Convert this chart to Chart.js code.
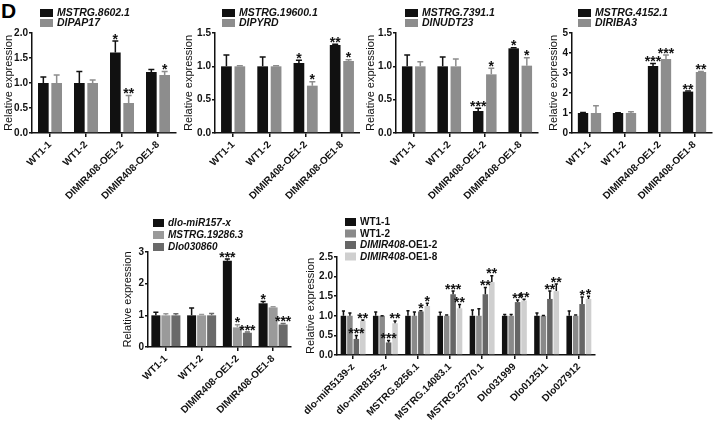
<!DOCTYPE html>
<html>
<head>
<meta charset="utf-8">
<script src="https://cdn.jsdelivr.net/npm/chart.js@4.4.0/dist/chart.umd.min.js"></script>
<style>
  body { margin: 0; background: #fff; width: 716px; height: 423px; overflow: hidden; position: relative; }
  canvas { position: absolute; }
  #tag { position: absolute; left: 1px; top: -1px; line-height: 1; font: bold 21px "Liberation Sans", Arial, sans-serif; color: #000; }
</style>
</head>
<body>
<div id="tag">D</div>
<canvas id="cA" width="180" height="210" style="left:0;top:0"></canvas>
<canvas id="cB" width="180" height="210" style="left:180px;top:0"></canvas>
<canvas id="cC" width="180" height="210" style="left:360px;top:0"></canvas>
<canvas id="cD" width="176" height="210" style="left:540px;top:0"></canvas>
<canvas id="cE" width="186" height="213" style="left:110px;top:210px"></canvas>
<canvas id="cF" width="310" height="213" style="left:296px;top:210px"></canvas>
<script>
const groupLabels = ['WT1-1', 'WT1-2', 'DIMIR408-OE1-2', 'DIMIR408-OE1-8'];

// panel 1
const mstrg8602 = [1.0, 1.0, 1.61, 1.22];
const mstrg8602Err = [0.12, 0.23, 0.23, 0.05];
const mstrg8602Sig = ['', '', '*', ''];
const dipap17 = [1.0, 1.0, 0.6, 1.16];
const dipap17Err = [0.16, 0.06, 0.15, 0.07];
const dipap17Sig = ['', '', '**', '*'];

// panel 2
const mstrg19600 = [1.0, 1.0, 1.05, 1.32];
const mstrg19600Err = [0.17, 0.14, 0.04, 0.01];
const mstrg19600Sig = ['', '', '*', '**'];
const dipyrd = [1.0, 1.0, 0.71, 1.08];
const dipyrdErr = [0.01, 0.01, 0.06, 0.02];
const dipyrdSig = ['', '', '*', '*'];

// panel 3
const mstrg7391 = [1.0, 1.0, 0.33, 1.27];
const mstrg7391Err = [0.17, 0.14, 0.04, 0.01];
const mstrg7391Sig = ['', '', '***', '*'];
const dinudt23 = [1.0, 1.0, 0.88, 1.01];
const dinudt23Err = [0.07, 0.11, 0.09, 0.12];
const dinudt23Sig = ['', '', '*', '*'];

// panel 4
const mstrg4152 = [1.0, 1.0, 3.35, 2.07];
const mstrg4152Err = [0.03, 0.01, 0.12, 0.03];
const mstrg4152Sig = ['', '', '***', '**'];
const diriba3 = [1.0, 1.0, 3.7, 3.05];
const diriba3Err = [0.36, 0.06, 0.2, 0.02];
const diriba3Sig = ['', '', '***', '**'];

// panel 5
const miR157 = [1.0, 1.0, 2.72, 1.38];
const miR157Err = [0.1, 0.23, 0.06, 0.06];
const miR157Sig = ['', '', '***', '*'];
const mstrg19286 = [1.0, 1.0, 0.62, 1.25];
const mstrg19286Err = [0.05, 0.03, 0.08, 0.02];
const mstrg19286Sig = ['', '', '*', ''];
const dlo030860 = [1.0, 1.0, 0.45, 0.71];
const dlo030860Err = [0.05, 0.06, 0.02, 0.03];
const dlo030860Sig = ['', '', '***', '***'];

// panel 6
const targetLabels = ['dlo-miR5139-z', 'dlo-miR8155-z', 'MSTRG.8256.1', 'MSTRG.14083.1', 'MSTRG.25770.1', 'Dlo031999', 'Dlo012511', 'Dlo027912'];
const wt11 = [1.0, 1.0, 1.0, 1.0, 1.0, 1.0, 1.0, 1.0];
const wt11Err = [0.12, 0.1, 0.13, 0.09, 0.15, 0.03, 0.07, 0.12];
const wt12 = [1.0, 1.0, 1.0, 1.0, 1.0, 1.0, 1.0, 1.0];
const wt12Err = [0.07, 0, 0.1, 0.02, 0.18, 0.03, 0.01, 0.02];
const oe12 = [0.41, 0.32, 1.11, 1.55, 1.55, 1.35, 1.43, 1.3];
const oe12Err = [0.09, 0.05, 0.02, 0.08, 0.17, 0.05, 0.2, 0.18];
const oe12Sig = ['***', '***', '*', '***', '**', '**', '**', '*'];
const oe18 = [0.87, 0.81, 1.25, 1.19, 1.86, 1.39, 1.63, 1.43];
const oe18Err = [0.02, 0.06, 0.07, 0.1, 0.16, 0.03, 0.18, 0.07];
const oe18Sig = ['**', '**', '*', '**', '**', '**', '**', '*'];
const noSig = ['', '', '', '', '', '', '', ''];

const FAMILY = '"Liberation Sans", Arial, sans-serif';
const BLACK = '#111111';
const STAR_SIZE = 14;

// error bars, stars and the little legend above each plot
const extras = {
  id: 'extras',
  afterDatasetsDraw(chart, args, opts) {
    const ctx = chart.ctx;
    const y = chart.scales.y;
    ctx.save();
    chart.data.datasets.forEach((ds, i) => {
      chart.getDatasetMeta(i).data.forEach((bar, j) => {
        const top = y.getPixelForValue(ds.data[j] + ds.err[j]);
        const cap = bar.width * 0.28;
        ctx.strokeStyle = ds.errColor;
        ctx.lineWidth = 1.5;
        ctx.beginPath();
        ctx.moveTo(bar.x, bar.y);
        ctx.lineTo(bar.x, top);
        ctx.moveTo(bar.x - cap, top);
        ctx.lineTo(bar.x + cap, top);
        ctx.stroke();
        if (ds.sig[j]) {
          ctx.fillStyle = BLACK;
          ctx.font = 'bold ' + STAR_SIZE + 'px ' + FAMILY;
          ctx.textAlign = 'center';
          ctx.textBaseline = 'alphabetic';
          ctx.fillText(ds.sig[j], bar.x, top - 3 + 0.4 * STAR_SIZE);
        }
      });
    });

    // legend
    const x0 = chart.chartArea.left + opts.dx;
    chart.data.datasets.forEach((ds, i) => {
      const cy = opts.y0 + i * opts.dy;
      ctx.fillStyle = ds.backgroundColor;
      ctx.fillRect(x0, cy - opts.bh / 2, opts.bw, opts.bh);
      let tx = x0 + opts.bw + 4;
      ctx.fillStyle = BLACK;
      ctx.textAlign = 'left';
      ctx.textBaseline = 'middle';
      ds.parts.forEach(p => {
        ctx.font = (p[1] ? 'italic ' : '') + 'bold ' + opts.fs + 'px ' + FAMILY;
        ctx.fillText(p[0], tx, cy + 0.5);
        tx += ctx.measureText(p[0]).width;
      });
    });
    ctx.restore();
  }
};

function series(name, mean, err, sig, color, errColor, parts) {
  return { name, mean, err, sig, color, errColor: errColor || color, parts: parts || [[name, true]] };
}

function makePanel(id, cfg) {
  new Chart(document.getElementById(id), {
    type: 'bar',
    data: {
      labels: cfg.labels,
      datasets: cfg.series.map(s => ({
        label: s.name,
        data: s.mean,
        err: s.err,
        sig: s.sig,
        parts: s.parts,
        errColor: s.errColor,
        backgroundColor: s.color,
        borderWidth: 0,
        categoryPercentage: cfg.cp,
        barPercentage: cfg.bp
      }))
    },
    options: {
      responsive: false,
      animation: false,
      devicePixelRatio: 1,
      layout: { padding: { top: cfg.pt, right: cfg.pr, left: 0, bottom: 0 } },
      plugins: {
        legend: { display: false },
        tooltip: { enabled: false },
        extras: cfg.legend
      },
      scales: {
        x: {
          afterFit: s => { s.height = cfg.xh; },
          border: { display: true, color: BLACK, width: 1.5 },
          grid: { offset: false, drawOnChartArea: false, tickLength: 4, color: BLACK, lineWidth: 1.5 },
          ticks: {
            autoSkip: false, maxRotation: 45, minRotation: 45, padding: 2, color: BLACK,
            font: { family: FAMILY, size: 10, weight: 'bold' }
          }
        },
        y: {
          min: 0,
          max: cfg.ymax,
          afterFit: s => { s.width = cfg.yw; },
          border: { display: true, color: BLACK, width: 1.5 },
          grid: { drawOnChartArea: false, tickLength: 3, color: BLACK, lineWidth: 1.5 },
          ticks: {
            stepSize: cfg.step, padding: 1, color: BLACK,
            font: { family: FAMILY, size: 10, weight: 'bold' },
            callback: v => v.toFixed(cfg.dec)
          },
          title: {
            display: true, text: 'Relative expression', color: BLACK,
            padding: { top: cfg.tp, bottom: 0 },
            font: { family: FAMILY, size: 11, lineHeight: 1 }
          }
        }
      }
    },
    plugins: [extras]
  });
}

const GRAY = '#8d8d8d';
const topLegend = { dx: 7, y0: 13, dy: 10, bw: 13, bh: 8, fs: 10.5 };
const topBase = { labels: groupLabels, cp: 0.74, bp: 0.8, pt: 33, xh: 77 };

makePanel('cA', Object.assign({}, topBase, {
  ymax: 2, step: 0.5, dec: 1, yw: 32, tp: 3, pr: 4, legend: Object.assign({}, topLegend, { dx: 8 }),
  series: [
    series('MSTRG.8602.1', mstrg8602, mstrg8602Err, mstrg8602Sig, BLACK),
    series('DIPAP17', dipap17, dipap17Err, dipap17Sig, GRAY)
  ]
}));

makePanel('cB', Object.assign({}, topBase, {
  ymax: 1.5, step: 0.5, dec: 1, yw: 35, tp: 3, pr: 0, legend: topLegend,
  series: [
    series('MSTRG.19600.1', mstrg19600, mstrg19600Err, mstrg19600Sig, BLACK),
    series('DIPYRD', dipyrd, dipyrdErr, dipyrdSig, GRAY)
  ]
}));

makePanel('cC', Object.assign({}, topBase, {
  ymax: 1.5, step: 0.5, dec: 1, yw: 36, tp: 5.5, pr: 2, legend: Object.assign({}, topLegend, { dx: 9 }),
  series: [
    series('MSTRG.7391.1', mstrg7391, mstrg7391Err, mstrg7391Sig, BLACK),
    series('DINUDT23', dinudt23, dinudt23Err, dinudt23Sig, GRAY)
  ]
}));

makePanel('cD', Object.assign({}, topBase, {
  ymax: 5, step: 1, dec: 0, yw: 32, tp: 8, pr: 4, legend: Object.assign({}, topLegend, { dx: 6 }),
  series: [
    series('MSTRG.4152.1', mstrg4152, mstrg4152Err, mstrg4152Sig, BLACK),
    series('DIRIBA3', diriba3, diriba3Err, diriba3Sig, GRAY)
  ]
}));

makePanel('cE', {
  labels: groupLabels, cp: 0.84, bp: 0.9, pt: 42, xh: 76,
  ymax: 3, step: 1, dec: 0, yw: 38, tp: 12, pr: 5,
  legend: { dx: 5, y0: 13, dy: 12, bw: 11, bh: 8, fs: 10 },
  series: [
    series('dlo-miR157-x', miR157, miR157Err, miR157Sig, BLACK),
    series('MSTRG.19286.3', mstrg19286, mstrg19286Err, mstrg19286Sig, '#9a9a9a'),
    series('Dlo030860', dlo030860, dlo030860Err, dlo030860Sig, '#6a6a6a')
  ]
});

makePanel('cF', {
  labels: targetLabels, cp: 0.8, bp: 0.86, pt: 47, xh: 68,
  ymax: 2.5, step: 0.5, dec: 1, yw: 41, tp: 9.5, pr: 11,
  legend: { dx: 8, y0: 12, dy: 11.5, bw: 11, bh: 8, fs: 10 },
  series: [
    series('WT1-1', wt11, wt11Err, noSig, BLACK, BLACK, [['WT1-1', false]]),
    series('WT1-2', wt12, wt12Err, noSig, '#8a8a8a', BLACK, [['WT1-2', false]]),
    series('DIMIR408-OE1-2', oe12, oe12Err, oe12Sig, '#666666', BLACK, [['DIMIR408', true], ['-OE1-2', false]]),
    series('DIMIR408-OE1-8', oe18, oe18Err, oe18Sig, '#cfcfcf', BLACK, [['DIMIR408', true], ['-OE1-8', false]])
  ]
});
</script>
</body>
</html>
